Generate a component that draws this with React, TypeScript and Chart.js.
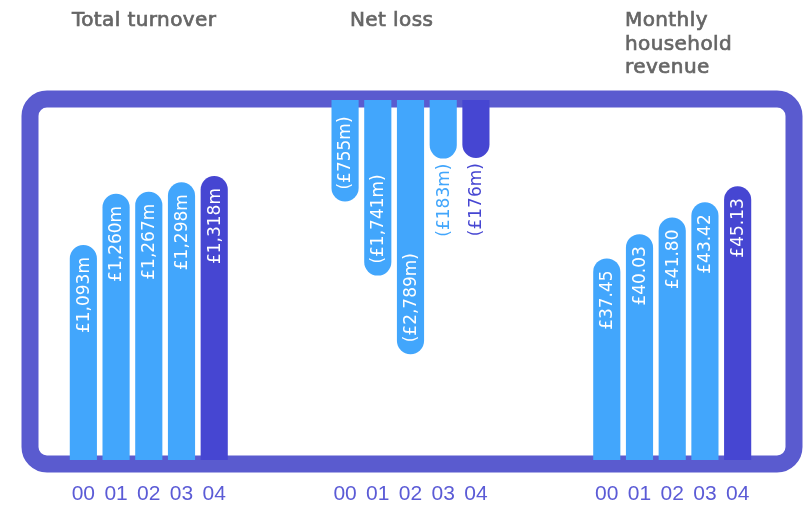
import { useEffect, useRef } from "react";
import { Chart, registerables } from "chart.js";

Chart.register(...registerables);

// ---- data ----
const YEARS = ["00", "01", "02", "03", "04"];
const GROUP_TITLES = [["Total turnover"], ["Net loss"], ["Monthly", "household", "revenue"]];
const TURNOVER = [1093, 1260, 1267, 1298, 1318]; // £m
const NET_LOSS = [755, 1741, 2789, 183, 176]; // £m
const HOUSEHOLD_REVENUE = [37.45, 40.03, 41.8, 43.42, 45.13]; // £ per month
const GAP_SLOTS = 3;

// ---- axis ranges (stylised infographic scales) ----
const TURNOVER_SCALE = { min: 392, max: 1566 };
const LOSS_SCALE = { min: -597, max: 4196 };
const REVENUE_SCALE = { min: 16, max: 54.3 };

const LIGHT = "#42a6fc";
const DARK = "#4646d2";
const FRAME = "#5a5bcf";
const TICK_COLOR = "#5b5bd6";
const TITLE_COLOR = "#666666";
const R = 13.5;

const gap = Array(GAP_SLOTS).fill("");
const LABELS = [...YEARS, ...gap, ...YEARS, ...gap, ...YEARS];
const N = LABELS.length;
const OFF_LOSS = YEARS.length + GAP_SLOTS;
const OFF_REV = 2 * (YEARS.length + GAP_SLOTS);

function place(values: number[], offset: number): (number | null)[] {
  const arr: (number | null)[] = Array(N).fill(null);
  values.forEach((v, i) => (arr[offset + i] = v));
  return arr;
}

const fmtM = (v: number) => "£" + v.toLocaleString("en-GB") + "m";
const fmtLoss = (v: number) => "(£" + v.toLocaleString("en-GB") + "m)";
const fmtRev = (v: number) => "£" + v.toFixed(2);

const framePlugin = {
  id: "frame",
  beforeDatasetsDraw(chart: any) {
    const ctx = chart.ctx;
    const w = chart.width;
    ctx.save();
    ctx.strokeStyle = FRAME;
    ctx.lineWidth = 17;
    ctx.beginPath();
    ctx.roundRect(30, 99, w - 30 - 9, 365, 17);
    ctx.stroke();
    ctx.restore();
  },
};

const titlePlugin = {
  id: "groupTitles",
  afterDraw(chart: any) {
    const ctx = chart.ctx;
    ctx.save();
    ctx.font = '20px "DejaVu Sans"';
    ctx.fillStyle = TITLE_COLOR;
    ctx.strokeStyle = TITLE_COLOR;
    ctx.lineWidth = 0.7;
    (ctx as any).letterSpacing = "0.4px";
    ctx.textAlign = "left";
    ctx.textBaseline = "alphabetic";
    const xs = [72, 350, 625];
    GROUP_TITLES.forEach((lines, g) => {
      lines.forEach((line, i) => {
        ctx.fillText(line, xs[g], 26 + i * 23.5);
        ctx.strokeText(line, xs[g], 26 + i * 23.5);
      });
    });
    ctx.restore();
  },
};

const valueLabelPlugin = {
  id: "valueLabels",
  afterDatasetsDraw(chart: any) {
    const ctx = chart.ctx;
    ctx.save();
    ctx.font = '17px "DejaVu Sans"';
    ctx.textBaseline = "middle";
    chart.data.datasets.forEach((ds: any, di: number) => {
      const meta = chart.getDatasetMeta(di);
      meta.data.forEach((bar: any, i: number) => {
        const v = ds.data[i];
        if (v == null) return;
        const local = i - ds.offset;
        const color = local === YEARS.length - 1 ? DARK : LIGHT;
        const text = ds.fmt(v);
        ctx.save();
        if (ds.hanging) {
          const len = Math.abs(bar.y - bar.base);
          const tw = ctx.measureText(text).width;
          if (len >= tw + 20) {
            ctx.translate(bar.x, bar.y - 12);
            ctx.rotate(-Math.PI / 2);
            ctx.textAlign = "left";
            ctx.fillStyle = "#ffffff";
          } else {
            ctx.translate(bar.x, bar.y + 5);
            ctx.rotate(-Math.PI / 2);
            ctx.textAlign = "right";
            ctx.fillStyle = color;
          }
        } else {
          ctx.translate(bar.x, bar.y + 12);
          ctx.rotate(-Math.PI / 2);
          ctx.textAlign = "right";
          ctx.fillStyle = "#ffffff";
        }
        ctx.fillText(text, 0, 1);
        ctx.restore();
      });
    });
    ctx.restore();
  },
};

export default function App() {
  const ref = useRef<HTMLCanvasElement | null>(null);

  useEffect(() => {
    document.body.style.margin = "0";
    if (!ref.current) return;
    const colorFor = (offset: number) => (c: any) =>
      c.dataIndex - offset === YEARS.length - 1 ? DARK : LIGHT;

    const chart = new Chart(ref.current, {
      type: "bar",
      data: {
        labels: LABELS,
        datasets: [
          {
            label: "Total turnover",
            data: place(TURNOVER, 0),
            yAxisID: "yT",
            backgroundColor: colorFor(0),
            borderSkipped: false,
            borderRadius: (c: any) =>
              c.dataIndex === YEARS.length - 1
                ? R
                : { topLeft: R, topRight: R, bottomLeft: 0, bottomRight: 0 },
            offset: 0,
            fmt: fmtM,
          } as any,
          {
            label: "Net loss",
            data: place(NET_LOSS, OFF_LOSS),
            yAxisID: "yL",
            base: LOSS_SCALE.min,
            backgroundColor: colorFor(OFF_LOSS),
            borderRadius: R,
            borderSkipped: "start",
            offset: OFF_LOSS,
            hanging: true,
            fmt: fmtLoss,
          } as any,
          {
            label: "Monthly household revenue",
            data: place(HOUSEHOLD_REVENUE, OFF_REV),
            yAxisID: "yR",
            backgroundColor: colorFor(OFF_REV),
            borderRadius: R,
            borderSkipped: "start",
            offset: OFF_REV,
            fmt: fmtRev,
          } as any,
        ],
      },
      options: {
        animation: false,
        responsive: true,
        maintainAspectRatio: false,
        layout: { padding: { top: 100, left: 67, right: 49, bottom: 0 } },
        datasets: {
          bar: { grouped: false, barPercentage: 0.83, categoryPercentage: 1 },
        },
        plugins: {
          legend: { display: false },
          tooltip: { enabled: false },
          title: { display: false },
        },
        scales: {
          x: {
            type: "category",
            grid: { display: false, drawTicks: false },
            border: { display: false },
            afterFit: (scale: any) => {
              scale.height = 46;
            },
            ticks: {
              color: TICK_COLOR,
              font: { family: '"Liberation Sans"', size: 21 },
              padding: 22,
              autoSkip: false,
              maxRotation: 0,
            },
          },
          yT: { display: false, min: TURNOVER_SCALE.min, max: TURNOVER_SCALE.max },
          yL: { display: false, min: LOSS_SCALE.min, max: LOSS_SCALE.max, reverse: true },
          yR: { display: false, min: REVENUE_SCALE.min, max: REVENUE_SCALE.max },
        },
      } as any,
      plugins: [framePlugin, titlePlugin, valueLabelPlugin],
    });
    return () => chart.destroy();
  }, []);

  return (
    <div style={{ width: 803, height: 506, position: "relative" }}>
      <canvas ref={ref} />
    </div>
  );
}
